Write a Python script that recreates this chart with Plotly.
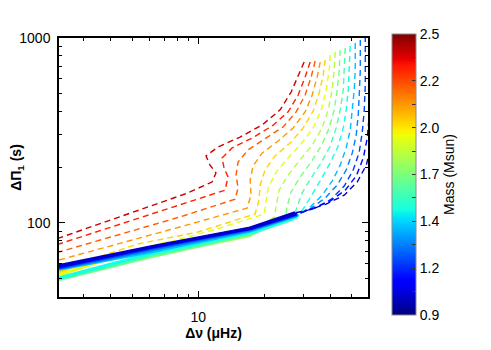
import math
import plotly.graph_objects as go
from plotly.colors import sample_colorscale

# ---------------- data ----------------
masses = [1.0, 1.1, 1.2, 1.3, 1.4, 1.5, 1.6, 1.7, 1.8, 1.9, 2.0, 2.1, 2.2, 2.3, 2.4]

dnu_m10 = [67.5, 64.0, 61.4, 58.24, 52.97, 46.21, 38.24, 31.65, 27.61, 17.22, 6.02, 2.32]
dpi_m10 = [523, 360, 263, 205, 166, 141, 126, 117, 113, 93.6, 73.9, 58.5]

dnu_m11 = [62.0, 60.7, 60.1, 58.85, 56.44, 52.41, 46.70, 39.9, 33.02, 27.90, 17.22, 6.02, 2.32]
dpi_m11 = [760, 523, 383, 287, 224, 179, 150, 131, 119, 111.4, 93.0, 73.4, 57.8]

dnu_m12 = [57.63, 57.63, 57.63, 57.03, 55.85, 54.09, 50.79, 46.21, 40.31, 34.07, 28.20, 17.22, 6.02, 2.32]
dpi_m12 = [1025, 760, 557, 408, 310, 241, 193, 158, 134, 120, 111.4, 92.5, 72.5, 57.1]

dnu_m13 = [54.7, 54.7, 54.09, 53.53, 52.41, 50.26, 47.19, 42.93, 37.84, 32.67, 28.20, 17.22, 6.02, 2.32]
dpi_m13 = [975, 671, 491, 383, 298, 238, 193, 160, 136, 120, 110, 91.3, 71.2, 56.5]

dnu_m14 = [51.87, 51.87, 51.33, 50.26, 49.2, 47.19, 44.3, 40.73, 36.67, 32.67, 28.50, 17.22, 6.02, 2.32]
dpi_m14 = [939, 671, 523, 408, 318, 254, 205, 168, 141, 123, 110, 90.2, 69.4, 56.0]

dnu_m15 = [49.2, 48.70, 48.19, 47.19, 45.73, 43.38, 39.9, 36.29, 33.02, 30.67, 28.20, 17.22, 6.02, 2.32]
dpi_m15 = [905, 671, 523, 408, 326, 260, 211, 172, 143, 123, 107.4, 88.5, 67.9, 50.2]

dnu_m16 = [46.70, 46.21, 45.73, 44.3, 42.48, 39.9, 36.29, 32.67, 29.72, 28.20, 27.04, 17.22, 6.02, 2.32]
dpi_m16 = [883, 671, 523, 408, 326, 260, 211, 175, 145, 122, 104.7, 87.4, 66.4, 49.6]

dnu_m17 = [44.3, 43.84, 42.93, 41.60, 39.47, 36.29, 32.67, 29.11, 26.48, 25.38, 24.86, 17.22, 6.02, 2.32]
dpi_m17 = [861, 671, 523, 408, 326, 260, 213, 177, 147, 122, 103.4, 86.4, 65.2, 49.3]

dnu_m18 = [42.03, 41.60, 40.73, 39.05, 36.67, 33.02, 29.11, 25.66, 23.34, 22.62, 22.14, 17.22, 6.02, 2.32]
dpi_m18 = [840, 671, 523, 408, 326, 263, 219, 181, 150, 125, 106.0, 85.2, 66.0, 49.9]

dnu_m19 = [39.9, 39.47, 38.24, 36.29, 33.37, 29.41, 25.66, 22.62, 20.80, 20.36, 19.94, 12.56, 7.43, 4.39, 2.32]
dpi_m19 = [809, 671, 523, 408, 326, 267, 224, 188, 154, 128, 111.4, 93.6, 78.6, 66.9, 52.1]

dnu_m20 = [37.84, 37.06, 35.53, 33.37, 30.03, 26.20, 22.38, 20.15, 19.12, 18.92, 18.14, 9.97, 5.31, 3.20, 2.32]
dpi_m20 = [760, 630, 504, 402, 326, 270, 230, 193, 160, 133, 111.4, 89.0, 76.7, 62.8, 54.1]

dnu_m21 = [35.92, 34.79, 33.02, 30.67, 27.04, 23.10, 19.53, 17.77, 17.22, 17.39, 16.68, 8.25, 2.32]
dpi_m21 = [741, 615, 491, 398, 326, 277, 238, 203, 170, 141, 120, 94.8, 62.8]

dnu_m22 = [34.07, 32.67, 30.67, 27.90, 24.35, 20.15, 16.85, 15.18, 14.86, 15.18, 14.71, 8.25, 2.32]
dpi_m22 = [751, 615, 491, 398, 330, 284, 248, 213, 181, 154, 134, 107.4, 69.4]

dnu_m23 = [32.33, 30.67, 28.50, 25.66, 21.69, 17.58, 14.25, 12.83, 13.10, 13.66, 13.24, 8.25, 2.32]
dpi_m23 = [741, 615, 491, 398, 334, 287, 254, 224, 198, 177, 150, 125, 76.7]

dnu_m24 = [30.35, 28.50, 26.48, 23.59, 19.53, 15.50, 12.30, 10.84, 11.31, 12.04, 11.55, 8.70, 2.32]
dpi_m24 = [741, 630, 510, 408, 338, 291, 257, 230, 205, 186, 166, 143, 82.6]

tracks_dnu = [dnu_m10, dnu_m11, dnu_m12, dnu_m13, dnu_m14, dnu_m15, dnu_m16, dnu_m17,
              dnu_m18, dnu_m19, dnu_m20, dnu_m21, dnu_m22, dnu_m23, dnu_m24]
tracks_dpi = [dpi_m10, dpi_m11, dpi_m12, dpi_m13, dpi_m14, dpi_m15, dpi_m16, dpi_m17,
              dpi_m18, dpi_m19, dpi_m20, dpi_m21, dpi_m22, dpi_m23, dpi_m24]
# index of the point where each track enters the dense (solid-looking) RGB band; None = never
band_entry = [8, 9, 10, 10, 10, 10, 10, 10, 10, 12, 13, None, None, None, None]

mass_min, mass_max = 0.9, 2.5
cbar_labels = ["0.9", "1.2", "1.4", "1.7", "2.0", "2.2", "2.5"]
x_ticks = [10]
x_minor = [3, 4, 5, 6, 7, 8, 9, 20, 30, 40, 50]
y_ticks = [100, 1000]
y_minor = [40, 50, 60, 70, 80, 90, 200, 300, 400, 500, 600, 700, 800, 900]
x_range = [2.32, 59.3]
y_range = [39.6, 1000]

# ---------------- style ----------------
jet = [
    [0.0, "rgb(0,0,128)"], [0.11, "rgb(0,0,255)"], [0.125, "rgb(0,0,255)"],
    [0.34, "rgb(0,219,255)"], [0.35, "rgb(0,230,247)"], [0.375, "rgb(21,255,226)"],
    [0.64, "rgb(239,255,8)"], [0.65, "rgb(247,245,0)"], [0.66, "rgb(255,236,0)"],
    [0.89, "rgb(255,19,0)"], [0.91, "rgb(232,0,0)"], [1.0, "rgb(128,0,0)"],
]
FONT = "Liberation Sans, Arial, Helvetica, sans-serif"

fig = go.Figure()
# high masses first so the low-mass band ends up on top
order = list(range(len(masses)))[::-1]
for i in order:
    m, xs, ys, k = masses[i], tracks_dnu[i], tracks_dpi[i], band_entry[i]
    frac = (m - mass_min) / (mass_max - mass_min)
    col = sample_colorscale(jet, [frac])[0]
    end = len(xs) if k is None else k + 1
    fig.add_trace(go.Scatter(
        x=xs[:end], y=ys[:end], mode="lines",
        line=dict(color=col, width=1.4, dash="6px,4px"),
        showlegend=False, hoverinfo="skip",
    ))
    if k is not None:
        fig.add_trace(go.Scatter(
            x=xs[k:], y=ys[k:], mode="lines",
            line=dict(color=col, width=3.2),
            showlegend=False, hoverinfo="skip",
        ))

n_cb = 2 * (len(cbar_labels) - 1)
cb_vals = [mass_min + i * (mass_max - mass_min) / n_cb for i in range(n_cb + 1)]
cb_text = [cbar_labels[i // 2] if i % 2 == 0 else " " for i in range(n_cb + 1)]

fig.add_trace(go.Scatter(
    x=[None], y=[None], mode="markers", showlegend=False, hoverinfo="skip",
    marker=dict(
        color=[mass_min], cmin=mass_min, cmax=mass_max, colorscale=jet, showscale=True,
        colorbar=dict(
            x=1.0777, xanchor="left", y=0.473, yanchor="middle",
            len=281, lenmode="pixels", thickness=24, thicknessmode="pixels",
            xpad=0, ypad=0,
            outlinecolor="#8a8a8a", outlinewidth=1,
            ticks="inside", ticklen=4, tickcolor="#333333", tickwidth=1,
            tickvals=cb_vals, ticktext=cb_text,
            tickfont=dict(family=FONT, size=14, color="black"),
            title=dict(text="Mass (Msun)", side="right",
                       font=dict(family=FONT, size=14, color="black")),
        ),
    ),
))

axis_common = dict(
    type="log", showgrid=False, zeroline=False, automargin=False,
    showline=True, linecolor="black", linewidth=1.5, mirror="ticks",
    ticks="inside", ticklen=6, tickwidth=1, tickcolor="black",
    tickfont=dict(family=FONT, size=14, color="black"),
)

# the page body has an 8 px margin at top/left: figure is 8 px smaller, left/top margins reduced
fig.update_layout(
    template="none",
    width=483, height=342, autosize=False,
    margin=dict(l=51, r=123, t=30, b=53, autoexpand=False),
    paper_bgcolor="white", plot_bgcolor="white",
    font=dict(family=FONT, size=14, color="black"),
    xaxis=dict(
        **axis_common,
        range=[math.log10(x_range[0]), math.log10(x_range[1])],
        tickvals=x_ticks, ticktext=[str(v) for v in x_ticks],
        minor=dict(tickvals=x_minor, ticks="inside", ticklen=3, tickcolor="black"),
        ticklabelstandoff=6,
        title=dict(text="<b>Δν (μHz)</b>", standoff=4,
                   font=dict(family=FONT, size=14, color="black")),
    ),
    yaxis=dict(
        **axis_common,
        range=[math.log10(y_range[0]), math.log10(y_range[1])],
        tickvals=y_ticks, ticktext=[str(v) for v in y_ticks],
        minor=dict(tickvals=y_minor, ticks="inside", ticklen=3, tickcolor="black"),
        ticklabelstandoff=4,
        title=dict(text="<b>ΔΠ<sub>1</sub> (s)</b>", standoff=2,
                   font=dict(family=FONT, size=14, color="black")),
    ),
)

fig.write_html("out.html")
